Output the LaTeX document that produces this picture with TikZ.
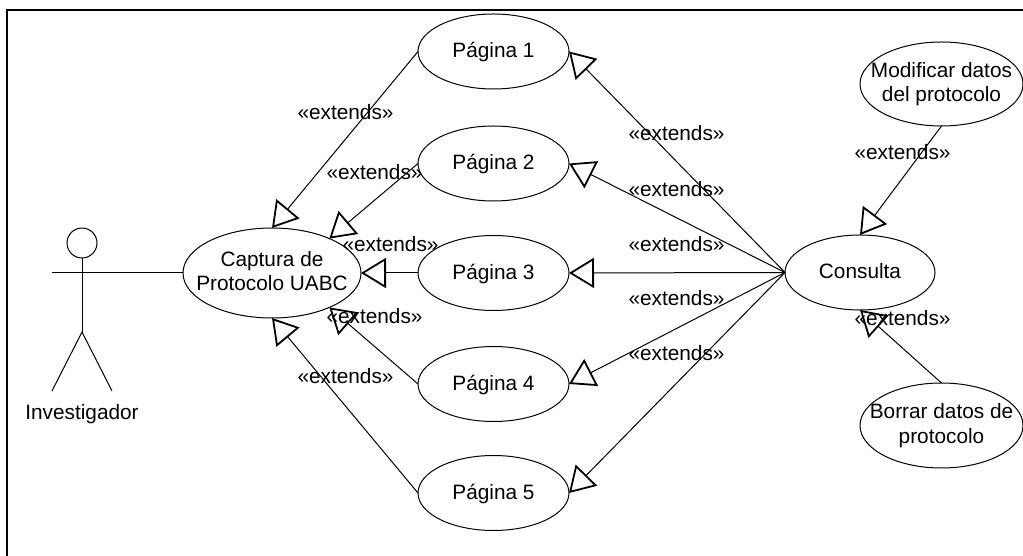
\documentclass[tikz,border=0pt]{standalone}
\usepackage{fontspec}
\setmainfont{Liberation Sans}
\usetikzlibrary{arrows.meta,shapes.geometric}
\tikzset{
  usecase/.style={draw,ellipse,line width=1pt,minimum width=#1,inner xsep=-45pt,inner ysep=-25pt,outer sep=0pt,align=center,font=\fontsize{20.8}{24.5}\selectfont},
  usecase/.default=151pt,
  pagina/.style={usecase,minimum height=75pt,text height=15pt,text depth=2pt},
  ext/.style={line width=1pt,-{Triangle[open,length=25pt,width=30pt,line width=1.8pt]}},
  lab/.style={font=\fontsize{20.8}{24}\selectfont,inner sep=0pt},
  limb/.style={line width=1pt}
}
\begin{document}
\begin{tikzpicture}[x=1pt,y=1pt]
\useasboundingbox (0,0) rectangle (1023,556);
\draw[line width=2.3pt] (7,-5) -- (7,546) -- (1030,546);
\node[usecase=178pt,minimum height=90pt] (cap) at (272,283) {Captura de\\Protocolo UABC\vphantom{g}};
\node[pagina] (p1) at (493.5,504.5) {Página 1};
\node[pagina] (p2) at (493.5,392.5) {Página 2};
\node[pagina] (p3) at (493.5,283) {Página 3};
\node[pagina] (p4) at (493.5,172) {Página 4};
\node[pagina] (p5) at (493.5,63) {Página 5};
\node[usecase=150pt,minimum height=75pt,text height=15pt,text depth=3pt] (con) at (860,283.5) {Consulta};
\node[usecase=163pt,minimum height=84pt] (mod) at (941.5,472) {Modificar datos\\del protocolo};
\node[usecase=163pt,minimum height=85pt] (bor) at (941.5,130.5) {Borrar datos de\\protocolo};
\node[draw,circle,line width=1pt,minimum size=30pt,inner sep=0pt] (head) at (82,313) {};
\coordinate (hip) at (82,224);
\coordinate (arml) at (52,283);
\coordinate (armr) at (112,283);
\coordinate (legl) at (52,165);
\coordinate (legr) at (112,165);
\draw[limb] (head.south) -- (hip);
\draw[limb] (arml) -- (armr);
\draw[limb] (legl) -- (hip) -- (legr);
\draw[limb] (armr) -- (cap.west);
\node[lab] (inv) at (82,141.5) {Investigador};
\draw[ext] (p1.west) -- (cap.north);
\draw[ext] (p2.west) -- (cap.31);
\draw[ext] (p3.west) -- (cap.east);
\draw[ext] (p4.west) -- (cap.-31);
\draw[ext] (p5.west) -- (cap.south);
\draw[ext] (con.west) -- (p1.east);
\draw[ext] (con.west) -- (p2.east);
\draw[ext] (con.west) -- (p3.east);
\draw[ext] (con.west) -- (p4.east);
\draw[ext] (con.west) -- (p5.east);
\draw[ext] (mod.south) -- (con.north);
\draw[ext] (bor.north) -- (con.south);
\node[lab] (l1) at (345.5,444) {«extends»};
\node[lab] (l2) at (374.5,384) {«extends»};
\node[lab] (l3) at (390.5,312) {«extends»};
\node[lab] (l4) at (374.5,240) {«extends»};
\node[lab] (l5) at (345.5,180) {«extends»};
\node[lab] (r1) at (676.5,423) {«extends»};
\node[lab] (r2) at (676.5,367) {«extends»};
\node[lab] (r3) at (676.5,312) {«extends»};
\node[lab] (r4) at (676.5,258) {«extends»};
\node[lab] (r5) at (676.5,203) {«extends»};
\node[lab] (m1) at (902.5,404) {«extends»};
\node[lab] (b1) at (902.5,238) {«extends»};
\end{tikzpicture}
\end{document}
